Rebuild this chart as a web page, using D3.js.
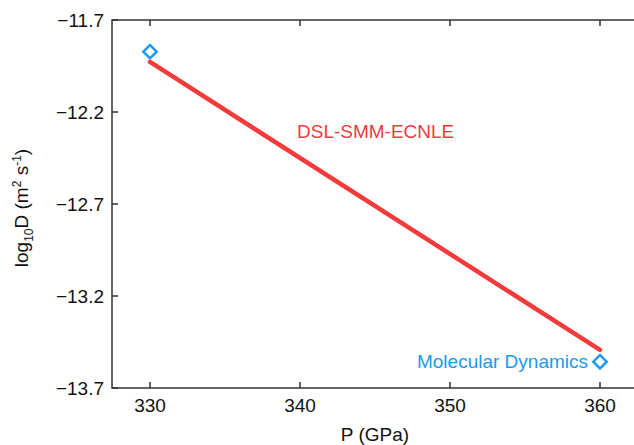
<!DOCTYPE html>
<html>
<head>
<meta charset="utf-8">
<script src="https://cdn.jsdelivr.net/npm/d3@7"></script>
<style>
  html, body { margin: 0; padding: 0; background: #fff; }
  svg { display: block; font-family: "Liberation Sans", Arial, Helvetica, sans-serif; }
</style>
</head>
<body>
<svg id="chart" width="634" height="445"></svg>
<script>
// Pressure (GPa) and log10 of the diffusion coefficient
const modelPressure = [330, 360];
const modelLogD = [-11.928, -13.493];
const mdPressure = [330, 360];
const mdLogD = [-11.872, -13.557];
const xTicks = [330, 340, 350, 360];
const yTicks = [-11.7, -12.2, -12.7, -13.2, -13.7];
const modelLabel = "DSL-SMM-ECNLE";
const mdLabel = "Molecular Dynamics";

const svg = d3.select("#chart");
const frame = { left: 112, top: 20, right: 640, bottom: 388 };

const x = d3.scaleLinear().domain([330, 360]).range([150, 600]);
const y = d3.scaleLinear().domain([-11.7, -13.7]).range([frame.top, frame.bottom]);

const axisColor = "#333";
const red = "#f23b3b";
const blue = "#1a9af2";
const fs = "19px";
const fmt = d => d3.format(".1f")(d).replace("-", "\u2212");

// Frame lines (right side lies past the canvas edge)
const g = svg.append("g");
g.append("path")
  .attr("d", `M${frame.right},${frame.top}H${frame.left}V${frame.bottom}H${frame.right}`)
  .attr("fill", "none").attr("stroke", axisColor).attr("stroke-width", 1.5);

// Inward ticks on left, top and bottom
const tickLen = 6;
xTicks.forEach(t => {
  g.append("line").attr("x1", x(t)).attr("x2", x(t))
    .attr("y1", frame.bottom).attr("y2", frame.bottom - tickLen)
    .attr("stroke", axisColor).attr("stroke-width", 1.5);
  g.append("line").attr("x1", x(t)).attr("x2", x(t))
    .attr("y1", frame.top).attr("y2", frame.top + tickLen)
    .attr("stroke", axisColor).attr("stroke-width", 1.5);
  g.append("text").attr("x", x(t)).attr("y", frame.bottom + 24)
    .attr("text-anchor", "middle").attr("font-size", fs).attr("fill", "#111")
    .text(t);
});
yTicks.forEach(t => {
  g.append("line").attr("x1", frame.left).attr("x2", frame.left + tickLen)
    .attr("y1", y(t)).attr("y2", y(t))
    .attr("stroke", axisColor).attr("stroke-width", 1.5);
  g.append("text").attr("x", frame.left - 8).attr("y", y(t))
    .attr("dy", "0.36em")
    .attr("text-anchor", "end").attr("font-size", fs).attr("fill", "#111")
    .text(fmt(t));
});

// Axis titles
svg.append("text").attr("x", (x(330) + x(360)) / 2).attr("y", 441)
  .attr("text-anchor", "middle").attr("font-size", fs).attr("fill", "#111")
  .text("P (GPa)");

const yl = svg.append("text")
  .attr("transform", `translate(28,${208}) rotate(-90)`)
  .attr("text-anchor", "middle").attr("font-size", fs).attr("fill", "#111");
yl.append("tspan").text("log");
yl.append("tspan").attr("font-size", "12px").attr("dy", 5).text("10");
yl.append("tspan").attr("dy", -5).text("D (m");
yl.append("tspan").attr("font-size", "12px").attr("dy", -7).text("2");
yl.append("tspan").attr("dy", 7).text(" s");
yl.append("tspan").attr("font-size", "12px").attr("dy", -7).text("-1");
yl.append("tspan").attr("dy", 7).text(")");

// Model line
const line = d3.line().x(d => x(d[0])).y(d => y(d[1]));
svg.append("path")
  .datum(modelPressure.map((p, i) => [p, modelLogD[i]]))
  .attr("d", line)
  .attr("fill", "none").attr("stroke", red).attr("stroke-width", 4.5)
  .attr("stroke-linecap", "round");

// Molecular dynamics points as open diamonds
const diamond = d3.symbol().type(d3.symbolSquare).size(90);
svg.selectAll(".md")
  .data(mdPressure.map((p, i) => [p, mdLogD[i]]))
  .join("path")
  .attr("class", "md")
  .attr("d", diamond)
  .attr("transform", d => `translate(${x(d[0])},${y(d[1])}) rotate(45)`)
  .attr("fill", "#fff").attr("stroke", blue).attr("stroke-width", 2.5);

// Series labels
svg.append("text").attr("x", x(339.8)).attr("y", y(-12.34))
  .attr("font-size", fs).attr("fill", red).text(modelLabel);
svg.append("text").attr("x", x(mdPressure[1]) - 12).attr("y", y(mdLogD[1]) + 6.5)
  .attr("text-anchor", "end").attr("font-size", fs).attr("fill", blue).text(mdLabel);
</script>
</body>
</html>
